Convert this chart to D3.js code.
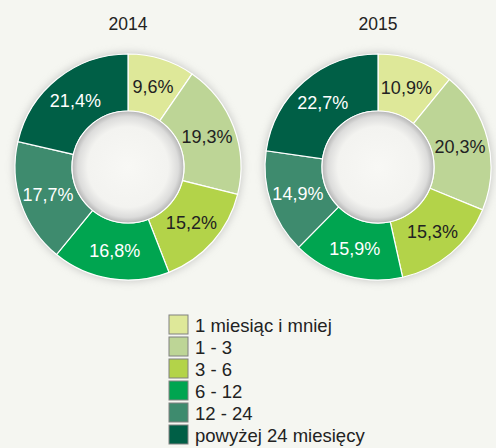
<!DOCTYPE html>
<html>
<head>
<meta charset="utf-8">
<script src="https://cdn.jsdelivr.net/npm/d3@7"></script>
<style>
  body { margin: 0; background: #f5f6f1; }
  text { font-family: "Liberation Sans", Arial, sans-serif; }
</style>
</head>
<body>
<div id="chart"></div>
<script>
var width = 496;
var height = 448;

var categories = ["1 miesiąc i mniej", "1 - 3", "3 - 6", "6 - 12", "12 - 24", "powyżej 24 miesięcy"];
var colors = ["#dee899", "#bdd596", "#b3d349", "#00a550", "#3e8b6e", "#005f46"];
var labelColors = ["#222", "#222", "#222", "#fff", "#fff", "#fff"];
var years = ["2014", "2015"];
var values2014 = [9.6, 19.3, 15.2, 16.8, 17.7, 21.4];
var values2015 = [10.9, 20.3, 15.3, 15.9, 14.9, 22.7];
var series = [values2014, values2015];

var centersX = [128, 378];
var centerY = 167;
var outerR = 113;
var innerR = 56;

var svg = d3.select("#chart")
            .append("svg")
            .attr("width", width)
            .attr("height", height);

svg.append("rect").attr("width", width).attr("height", height).attr("fill", "#f5f6f1");

var defs = svg.append("defs");
defs.append("filter")
    .attr("id", "shadow")
    .attr("x", "-30%").attr("y", "-30%").attr("width", "160%").attr("height", "160%")
    .append("feGaussianBlur")
    .attr("stdDeviation", 4);

var hole = defs.append("radialGradient").attr("id", "hole");
hole.append("stop").attr("offset", "0%").attr("stop-color", "#f8f8f5");
hole.append("stop").attr("offset", "72%").attr("stop-color", "#f3f3f0");
hole.append("stop").attr("offset", "90%").attr("stop-color", "#dcdcdb");
hole.append("stop").attr("offset", "100%").attr("stop-color", "#b5b5b5");

var pie = d3.pie().sort(null).value(function(d) { return d; });
var arc = d3.arc().innerRadius(innerR).outerRadius(outerR);

series.forEach(function(vals, i) {
    var g = svg.append("g")
        .attr("transform", "translate(" + centersX[i] + "," + centerY + ")");

    g.append("text")
        .attr("x", 0)
        .attr("y", -137)
        .attr("text-anchor", "middle")
        .attr("font-size", 17.5)
        .attr("fill", "#222")
        .text(years[i]);

    // soft shadow under the ring
    g.append("circle")
        .attr("r", outerR + 1)
        .attr("fill", "#a0a0a0")
        .attr("opacity", 0.55)
        .attr("filter", "url(#shadow)");

    g.selectAll("path")
        .data(pie(vals))
        .enter()
        .append("path")
        .attr("d", arc)
        .attr("fill", function(d, j) { return colors[j]; })
        .attr("stroke", "#fff")
        .attr("stroke-width", 1.2);

    g.append("circle")
        .attr("r", innerR)
        .attr("fill", "url(#hole)")
        .attr("stroke", "#fff")
        .attr("stroke-width", 1.2);

    g.selectAll("text.lbl")
        .data(pie(vals))
        .enter()
        .append("text")
        .attr("class", "lbl")
        .attr("transform", function(d) { return "translate(" + arc.centroid(d) + ")"; })
        .attr("text-anchor", "middle")
        .attr("dy", "0.35em")
        .attr("font-size", 18)
        .attr("fill", function(d, j) { return labelColors[j]; })
        .text(function(d) { return d3.format(".1f")(d.data).replace(".", ",") + "%"; });
});

// legend
var legend = svg.append("g").attr("transform", "translate(169,315)");
var rows = legend.selectAll("g")
    .data(categories)
    .enter()
    .append("g")
    .attr("transform", function(d, i) { return "translate(0," + i * 22 + ")"; });

rows.append("rect")
    .attr("width", 19)
    .attr("height", 19)
    .attr("fill", function(d, i) { return colors[i]; })
    .attr("stroke", "#808080")
    .attr("stroke-width", 1);

rows.append("text")
    .attr("x", 26)
    .attr("y", 10)
    .attr("dy", "0.36em")
    .attr("font-size", 18.5)
    .attr("fill", "#222")
    .text(function(d) { return d; });
</script>
</body>
</html>
